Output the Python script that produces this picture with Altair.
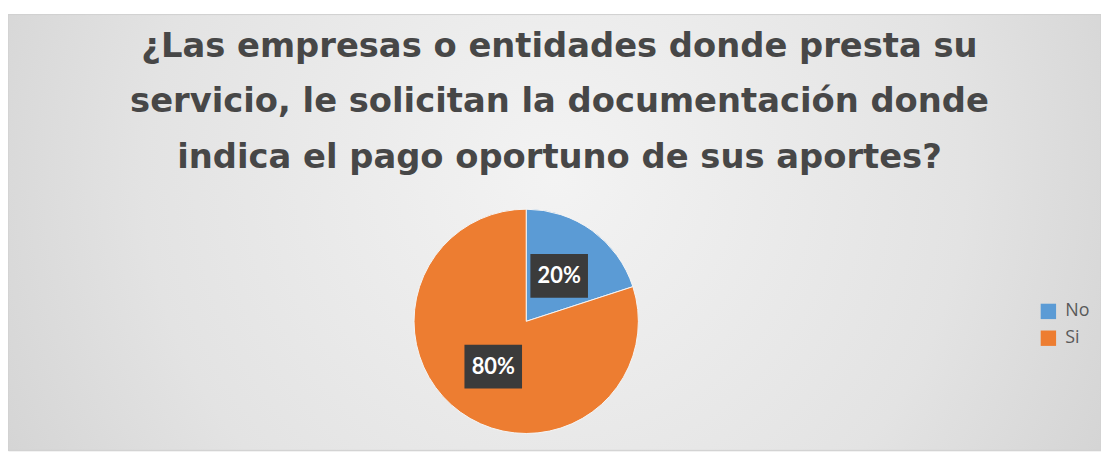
import altair as alt
import pandas as pd

categories = ["No", "Si"]
values = [20, 80]
labels = ["20%", "80%"]
colors = ["#5B9BD5", "#ED7D31"]
title_lines = [
    "¿Las empresas o entidades donde presta su",
    "servicio, le solicitan la documentación donde",
    "indica el pago oportuno de sus aportes?",
]

df = pd.DataFrame({"cat": categories, "val": values, "label": labels, "order": [0, 1]})

W, H = 1101, 439
CX, CY, R = 522, 309, 113

bg = alt.Chart(pd.DataFrame({"a": [0]})).mark_rect(
    color=alt.Gradient(
        gradient="radial",
        stops=[alt.GradientStop(color="#f3f3f3", offset=0),
               alt.GradientStop(color="#e3e3e3", offset=0.5),
               alt.GradientStop(color="#c6c6c6", offset=1)],
        x1=0.5, y1=0.45, r1=0, x2=0.5, y2=0.45, r2=0.75,
    ),
    stroke="#d0d0d0", strokeWidth=1,
).encode(x=alt.value(0), x2=alt.value(W), y=alt.value(0), y2=alt.value(H))

color_scale = alt.Scale(domain=categories, range=colors)

pie = alt.Chart(df).mark_arc(radius=R, stroke="#f5f5f5", strokeWidth=1).encode(
    theta=alt.Theta("val:Q", stack=True),
    order=alt.Order("order:Q"),
    color=alt.Color("cat:N", scale=color_scale, legend=alt.Legend(
        title=None, orient="none", legendX=1039, legendY=290,
        symbolType="square", symbolSize=240, symbolStrokeWidth=0,
        labelFontSize=18, labelColor="#595959", labelFont="Open Sans",
        rowPadding=9, symbolOffset=0, labelOffset=8,
    )),
    x=alt.value(CX), y=alt.value(CY),
)

pos = alt.Chart(df).transform_window(
    cum="sum(val)", sort=[alt.SortField("order")]
).transform_joinaggregate(total="sum(val)").transform_calculate(
    mid="(datum.cum - datum.val/2) / datum.total * 2 * PI",
    px="0.5 * sin(datum.mid)",
    py="0.5 * cos(datum.mid)",
)

xs = alt.Scale(domain=[-1, 1], range=[CX - R, CX + R])
ys = alt.Scale(domain=[-1, 1], range=[CY + R, CY - R])

boxes = pos.mark_point(
    shape="M-1,-0.76L1,-0.76L1,0.76L-1,0.76Z", filled=True, color="#3b3b3b", opacity=1, size=3364
).encode(
    x=alt.X("px:Q", scale=xs, axis=None),
    y=alt.Y("py:Q", scale=ys, axis=None),
)

texts = pos.mark_text(color="white", fontSize=22, fontWeight="bold", font="Lato").encode(
    x=alt.X("px:Q", scale=xs, axis=None),
    y=alt.Y("py:Q", scale=ys, axis=None),
    text="label:N",
)

chart = alt.layer(bg, pie, boxes, texts).properties(
    width=W, height=H,
    padding={"left": 0, "top": 5, "right": 0, "bottom": 0},
    autosize=alt.AutoSizeParams(type="none"),
    title=alt.TitleParams(
        text=title_lines, fontSize=34, font="DejaVu Sans", fontWeight="bold", color="#474747",
        lineHeight=56, anchor="middle", offset=-162, dx=5, baseline="top", orient="top",
    ),
).configure_view(stroke=None).configure(background="white")

chart.save("out.html", embed_options={"renderer": "svg", "actions": False})
